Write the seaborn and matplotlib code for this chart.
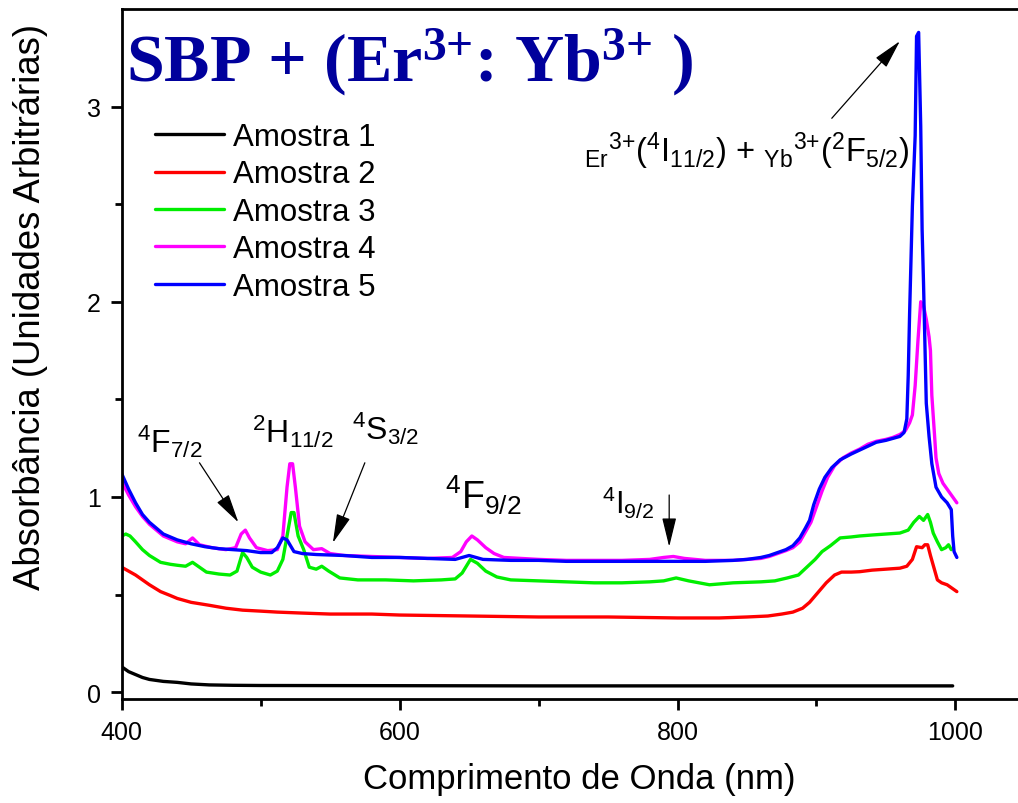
import numpy as np
import matplotlib
matplotlib.use("Agg")
import matplotlib.pyplot as plt
import seaborn as sns

# ---------------- data ----------------
labels = ["Amostra 1", "Amostra 2", "Amostra 3", "Amostra 4", "Amostra 5"]
colors = ["#000000", "#FF0000", "#00EE00", "#FF00FF", "#0000FF"]

x1 = [400, 405, 410, 415, 420, 430, 440, 450, 463, 480, 500, 600, 700, 800, 900, 998]
y1 = [0.13, 0.105, 0.09, 0.075, 0.065, 0.055, 0.05, 0.042, 0.037, 0.035, 0.034, 0.033,
      0.032, 0.032, 0.032, 0.032]

x2 = [400, 405, 410, 415, 420, 428, 435, 440, 450, 463, 475, 487, 500, 512, 530, 550,
      580, 600, 650, 700, 750, 800, 830, 850, 865, 875, 883, 890, 895, 901, 907, 913,
      918, 925, 931, 940, 950, 960, 965, 969, 972, 976, 978, 980, 982, 984, 987, 990,
      994, 997, 1001]
y2 = [0.64, 0.62, 0.60, 0.575, 0.55, 0.515, 0.495, 0.48, 0.46, 0.445, 0.43, 0.42, 0.415,
      0.41, 0.405, 0.40, 0.40, 0.395, 0.39, 0.385, 0.385, 0.38, 0.38, 0.385, 0.39, 0.40,
      0.41, 0.43, 0.46, 0.51, 0.56, 0.60, 0.615, 0.615, 0.617, 0.625, 0.63, 0.635, 0.645,
      0.68, 0.745, 0.74, 0.755, 0.755, 0.70, 0.65, 0.575, 0.56, 0.55, 0.535, 0.515]

x3 = [400, 403, 406, 410, 415, 420, 428, 435, 440, 446, 451, 455, 461, 470, 478, 483,
      487, 490, 494, 500, 507, 512, 516, 519, 522, 524, 527, 531, 535, 540, 544, 549,
      557, 570, 590, 610, 630, 640, 645, 651, 656, 662, 670, 680, 700, 720, 740, 760,
      780, 790, 799, 808, 823, 840, 860, 870, 879, 887, 893, 899, 904, 910, 917, 925,
      931, 940, 950, 960, 966, 970, 974, 977, 980, 982, 984, 987, 990, 993, 995, 997]
y3 = [0.80, 0.81, 0.80, 0.77, 0.73, 0.70, 0.665, 0.655, 0.65, 0.645, 0.665, 0.645, 0.615,
      0.605, 0.60, 0.62, 0.715, 0.69, 0.64, 0.615, 0.60, 0.62, 0.68, 0.80, 0.92, 0.92,
      0.80, 0.73, 0.64, 0.63, 0.645, 0.62, 0.585, 0.575, 0.575, 0.57, 0.575, 0.58, 0.61,
      0.68, 0.66, 0.62, 0.59, 0.575, 0.57, 0.565, 0.56, 0.56, 0.565, 0.57, 0.585, 0.57,
      0.55, 0.56, 0.565, 0.57, 0.585, 0.60, 0.64, 0.68, 0.72, 0.75, 0.79, 0.795, 0.80,
      0.805, 0.81, 0.815, 0.83, 0.87, 0.90, 0.88, 0.91, 0.87, 0.815, 0.77, 0.73, 0.74,
      0.755, 0.73]

x4 = [400, 405, 410, 415, 420, 425, 430, 440, 446, 451, 456, 465, 475, 482, 486, 489,
      492, 497, 505, 512, 516, 519, 521, 523, 525, 528, 532, 538, 544, 550, 560, 580,
      600, 620, 638, 644, 648, 652, 656, 662, 668, 675, 700, 720, 740, 760, 780, 790,
      797, 805, 820, 840, 850, 860, 866, 872, 878, 883, 888, 892, 896, 900, 904, 908,
      913, 919, 925, 931, 937, 943, 950, 955, 960, 964, 967, 969, 971, 973, 975, 977,
      979, 981, 982, 983, 985, 986, 988, 991, 996, 1001]
y4 = [1.08, 1.01, 0.95, 0.90, 0.86, 0.83, 0.80, 0.77, 0.76, 0.79, 0.755, 0.74, 0.73,
      0.74, 0.81, 0.83, 0.79, 0.74, 0.725, 0.73, 0.80, 1.05, 1.17, 1.17, 1.05, 0.85, 0.77,
      0.73, 0.735, 0.71, 0.70, 0.695, 0.69, 0.685, 0.69, 0.72, 0.77, 0.80, 0.78, 0.74,
      0.71, 0.69, 0.68, 0.675, 0.675, 0.675, 0.68, 0.69, 0.695, 0.685, 0.675, 0.675, 0.68,
      0.685, 0.695, 0.71, 0.725, 0.74, 0.77, 0.82, 0.87, 0.95, 1.03, 1.10, 1.16, 1.20,
      1.225, 1.245, 1.27, 1.285, 1.295, 1.305, 1.32, 1.34, 1.38, 1.42, 1.57, 1.80, 2.00,
      1.98, 1.91, 1.82, 1.75, 1.52, 1.31, 1.20, 1.12, 1.07, 1.02, 0.97]

x5 = [400, 405, 410, 415, 420, 425, 430, 440, 450, 460, 470, 480, 490, 500, 508, 512,
      516, 519, 524, 530, 540, 560, 580, 600, 620, 640, 645, 650, 655, 660, 680, 700,
      720, 740, 760, 780, 800, 820, 840, 850, 860, 866, 872, 878, 883, 888, 892, 895,
      898, 902, 906, 911, 917, 925, 931, 937, 943, 950, 955, 960, 963, 965, 966, 967,
      969, 971, 972, 973.5, 975, 976, 977, 979, 981, 983, 986, 990, 994, 997, 998, 999,
      1001]
y5 = [1.12, 1.04, 0.97, 0.91, 0.87, 0.84, 0.81, 0.78, 0.76, 0.745, 0.735, 0.73, 0.725,
      0.715, 0.715, 0.74, 0.79, 0.78, 0.72, 0.71, 0.705, 0.70, 0.69, 0.69, 0.685, 0.68,
      0.69, 0.70, 0.69, 0.68, 0.675, 0.675, 0.67, 0.67, 0.67, 0.67, 0.67, 0.67, 0.675,
      0.68, 0.69, 0.70, 0.715, 0.73, 0.75, 0.79, 0.84, 0.88, 0.96, 1.04, 1.10, 1.15, 1.19,
      1.22, 1.24, 1.26, 1.28, 1.29, 1.30, 1.31, 1.33, 1.40, 1.62, 1.94, 2.49, 2.85, 3.36,
      3.38, 2.90, 2.37, 2.10, 1.48, 1.31, 1.17, 1.05, 1.00, 0.97, 0.935, 0.80, 0.72, 0.69]

series_x = [x1, x2, x3, x4, x5]
series_y = [y1, y2, y3, y4, y5]

# ---------------- figure ----------------
sns.set_style("ticks")
plt.rcParams["font.family"] = ["Liberation Sans", "DejaVu Sans"]
plt.rcParams["mathtext.default"] = "regular"
for k in ["text.color", "axes.labelcolor", "xtick.color", "ytick.color",
          "axes.edgecolor"]:
    plt.rcParams[k] = "black"

fig = plt.figure(figsize=(10.18, 8.04), dpi=100)
ax = fig.add_axes([0.1195, 0.1294, 0.8805, 0.8582])

for xs, ys, c, lab in zip(series_x, series_y, colors, labels):
    sns.lineplot(x=xs, y=ys, ax=ax, color=c, lw=2.4, label=lab,
                 estimator=None, sort=False)

ax.set_xlim(400, 1045)
ax.set_ylim(-0.035, 3.5)
ax.set_xticks([400, 600, 800, 1000])
ax.set_xticks([500, 700, 900], minor=True)
ax.set_yticks([0, 1, 2, 3])
ax.set_yticks([0.5, 1.5, 2.5], minor=True)
ax.spines["right"].set_visible(False)
for s in ["left", "bottom", "top"]:
    ax.spines[s].set_linewidth(2.0)
ax.tick_params(which="major", direction="out", length=8, width=2.0,
               labelsize=18)
ax.tick_params(axis="x", which="major", pad=7)
ax.tick_params(axis="y", which="major", pad=7)
ax.tick_params(which="minor", direction="out", length=5, width=2.0)
ax.tick_params(top=False, right=False)

ax.set_xlabel("Comprimento de Onda (nm)", fontsize=25)
ax.set_ylabel("Absorbância (Unidades Arbitrárias)", fontsize=26.3)
ax.xaxis.set_label_coords(0.511, -0.092)
ax.yaxis.set_label_coords(-0.082, 0.569)

leg = ax.legend(loc="upper left", bbox_to_anchor=(0.037, 0.836), frameon=False,
                fontsize=22.5, handlelength=2.2, handletextpad=0.3,
                labelspacing=0.235, borderpad=0, borderaxespad=0)
for ln in leg.get_lines():
    ln.set_linewidth(2.4)

# title inside the axes
ax.text(403, 3.13, r"SBP + (Er$^{3{+}}$: Yb$^{3{+}}$ )",
        fontsize=49, fontweight="bold", family="Liberation Serif",
        color="#00009C", ha="left", va="baseline")

# level labels
ax.text(411, 1.23, r"$^{4}$F$_{7/2}$", fontsize=23, ha="left", va="baseline")
ax.text(494, 1.28, r"$^{2}$H$_{11/2}$", fontsize=23, ha="left", va="baseline")
ax.text(565.5, 1.295, r"$^{4}$S$_{3/2}$", fontsize=23, ha="left", va="baseline")
ax.text(632.5, 0.945, r"$^{4}$F$_{9/2}$", fontsize=27, ha="left", va="baseline")
ax.text(746, 0.92, r"$^{4}$I$_{9/2}$", fontsize=22, ha="left", va="baseline")
ax.text(733, 2.72,
        r"$_{Er}$$^{3{+}}$($^{4}$I$_{11/2}$) + $_{Yb}$$^{3{+}}$($^{2}$F$_{5/2}$)",
        fontsize=23.6, ha="left", va="baseline")

arrow = dict(arrowstyle="-|>,head_length=0.9,head_width=0.22", color="black",
             lw=0.9, shrinkA=0, shrinkB=0, mutation_scale=20)
ax.annotate("", xy=(484, 0.87), xytext=(456, 1.175), arrowprops=arrow)
ax.annotate("", xy=(552, 0.765), xytext=(575, 1.175), arrowprops=arrow)
ax.annotate("", xy=(794, 0.745), xytext=(794, 1.01), arrowprops=arrow)
ax.annotate("", xy=(960, 3.335), xytext=(911, 2.94), arrowprops=arrow)

fig.savefig("out.png", dpi=100)
